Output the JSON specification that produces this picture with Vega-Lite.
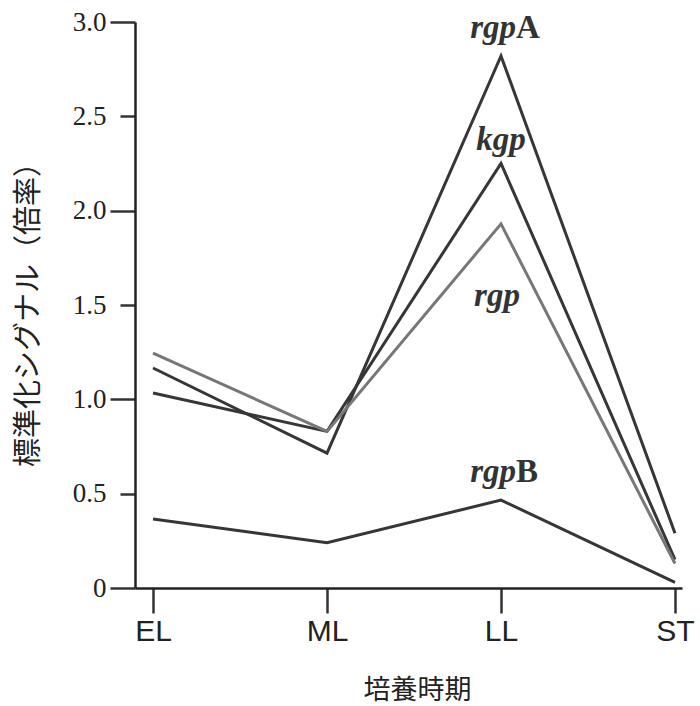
{
  "$schema": "https://vega.github.io/schema/vega-lite/v6.json",
  "autosize": "none",
  "width": 547,
  "height": 566,
  "padding": {"left": 135, "top": 22, "right": 18, "bottom": 118},
  "background": "white",
  "config": {"view": {"stroke": null}},
  "datasets": {
    "series": [
      {"gene": "rgpA", "stage": "EL", "value": 1.166},
      {"gene": "rgpA", "stage": "ML", "value": 0.715},
      {"gene": "rgpA", "stage": "LL", "value": 2.82},
      {"gene": "rgpA", "stage": "ST", "value": 0.29},
      {"gene": "kgp", "stage": "EL", "value": 1.034},
      {"gene": "kgp", "stage": "ML", "value": 0.83},
      {"gene": "kgp", "stage": "LL", "value": 2.25},
      {"gene": "kgp", "stage": "ST", "value": 0.15},
      {"gene": "rgp", "stage": "EL", "value": 1.245},
      {"gene": "rgp", "stage": "ML", "value": 0.83},
      {"gene": "rgp", "stage": "LL", "value": 1.93},
      {"gene": "rgp", "stage": "ST", "value": 0.13},
      {"gene": "rgpB", "stage": "EL", "value": 0.366},
      {"gene": "rgpB", "stage": "ML", "value": 0.24},
      {"gene": "rgpB", "stage": "LL", "value": 0.466},
      {"gene": "rgpB", "stage": "ST", "value": 0.03}
    ],
    "labels": [
      {"gene": "rgpA", "italic": "rgp", "upright": "A", "stage": "LL", "value": 2.82},
      {"gene": "rgpB", "italic": "rgp", "upright": "B", "stage": "LL", "value": 0.466},
      {"gene": "kgp", "italic": "kgp", "upright": "", "stage": "LL", "value": 2.25},
      {"gene": "rgp", "italic": "rgp", "upright": "", "stage": "LL", "value": 1.93}
    ]
  },
  "encoding": {
    "x": {
      "field": "stage",
      "type": "ordinal",
      "sort": ["EL", "ML", "LL", "ST"],
      "scale": {"type": "point", "padding": 0.072, "align": 0.72},
      "axis": {
        "title": "培養時期",
        "titleFont": "Noto Sans CJK JP",
        "titleFontSize": 27,
        "titleFontWeight": "normal",
        "titleColor": "#222",
        "titleX": 282,
        "titleY": 102,
        "titleBaseline": "middle",
        "labelFont": "Liberation Sans Narrow, Liberation Sans",
        "labelFontSize": 30,
        "labelColor": "#222",
        "labelPadding": 3,
        "labelAngle": 0,
        "tickSize": 25,
        "tickWidth": 2.5,
        "tickColor": "#333",
        "domainWidth": 2.5,
        "domainColor": "#222",
        "grid": false
      }
    },
    "y": {
      "field": "value",
      "type": "quantitative",
      "scale": {"domain": [0, 3], "nice": false},
      "axis": {
        "title": "標準化シグナル（倍率）",
        "titleFont": "Noto Sans CJK JP",
        "titleFontSize": 29,
        "titleFontWeight": "normal",
        "titleColor": "#222",
        "titleX": -107,
        "titleY": 285,
        "titleAlign": "center",
        "titleBaseline": "middle",
        "titleAngle": -90,
        "values": [0, 0.5, 1, 1.5, 2, 2.5, 3],
        "labelExpr": "datum.value === 0 ? '0' : format(datum.value, '.1f')",
        "labelFont": "Liberation Serif",
        "labelFontSize": 27,
        "labelColor": "#222",
        "tickSize": {"condition": {"test": "datum.value % 1 === 0", "value": 25}, "value": 15},
        "labelPadding": {"condition": {"test": "datum.value % 1 === 0", "value": 4}, "value": 14},
        "tickWidth": 2.5,
        "tickColor": "#333",
        "domainWidth": 2.5,
        "domainColor": "#222",
        "grid": false
      }
    }
  },
  "layer": [
    {
      "data": {"name": "series"},
      "mark": {"type": "line", "strokeWidth": 3, "strokeJoin": "miter"},
      "encoding": {
        "detail": {"field": "gene"},
        "color": {
          "field": "gene",
          "type": "nominal",
          "scale": {"domain": ["rgpA", "kgp", "rgp", "rgpB"], "range": ["#363636", "#363636", "#777777", "#363636"]},
          "legend": null
        }
      }
    },
    {
      "data": {"name": "labels"},
      "transform": [{"filter": "datum.upright !== ''"}],
      "mark": {"type": "text", "align": "right", "baseline": "alphabetic", "dx": 15, "dy": -18, "font": "Liberation Serif", "fontSize": 33, "fontStyle": "italic", "fontWeight": "bold", "color": "#333"},
      "encoding": {"text": {"field": "italic"}}
    },
    {
      "data": {"name": "labels"},
      "transform": [{"filter": "datum.upright !== ''"}],
      "mark": {"type": "text", "align": "left", "baseline": "alphabetic", "dx": 15, "dy": -18, "font": "Liberation Serif", "fontSize": 33, "fontWeight": "bold", "color": "#333"},
      "encoding": {"text": {"field": "upright"}}
    },
    {
      "data": {"name": "labels"},
      "transform": [{"filter": "datum.gene === 'kgp'"}],
      "mark": {"type": "text", "align": "center", "baseline": "alphabetic", "dx": 0, "dy": -14, "font": "Liberation Serif", "fontSize": 33, "fontStyle": "italic", "fontWeight": "bold", "color": "#333"},
      "encoding": {"text": {"field": "italic"}}
    },
    {
      "data": {"name": "labels"},
      "transform": [{"filter": "datum.gene === 'rgp'"}],
      "mark": {"type": "text", "align": "center", "baseline": "alphabetic", "dx": -4, "dy": 82, "font": "Liberation Serif", "fontSize": 33, "fontStyle": "italic", "fontWeight": "bold", "color": "#333"},
      "encoding": {"text": {"field": "italic"}}
    }
  ]
}
